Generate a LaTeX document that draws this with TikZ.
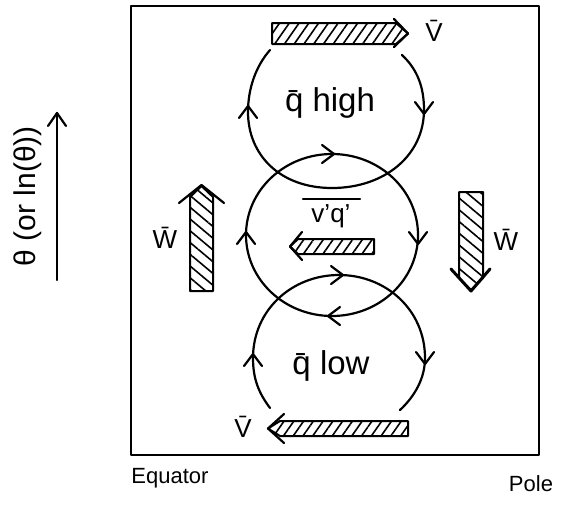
\documentclass[tikz,border=0pt]{standalone}
\usepackage{fontspec}
\setmainfont{Liberation Sans}
\usetikzlibrary{arrows.meta,patterns.meta}
\begin{document}
\begin{tikzpicture}[x=1pt,y=-1pt,
  ink/.style={line width=2.2pt, line cap=round, line join=round},
  hatchH/.style={ink, line width=2pt, pattern={Lines[angle=55,distance=8pt,line width=1.6pt]}},
  hatchV/.style={ink, line width=2pt, pattern={Lines[angle=-40,distance=9pt,line width=1.6pt]}},
  lbl/.style={inner sep=0pt},
  big/.style={lbl, font=\fontsize{33}{36}\selectfont},
  mid/.style={lbl, font=\fontsize{26}{28}\selectfont},
  sml/.style={lbl, font=\fontsize{22}{24}\selectfont},
  ]
\useasboundingbox (0,0) rectangle (567,506);

% frame
\draw[ink, line width=1.8pt] (131,6) rectangle (539,455);

% top loop (q high)
\draw[ink] (402,55) .. controls (418,70) and (424,88) .. (424,110)
  .. controls (424,155) and (385,188) .. (332,188)
  .. controls (280,188) and (248,155) .. (248,112)
  .. controls (248,88) and (256,66) .. (270,50);
\draw[ink] (239,118) -- (248,106) -- (257,118);
\draw[ink] (415,102) -- (424,114) -- (433,102);

% middle loop
\draw[ink] (332,235) ellipse [x radius=86, y radius=81];
\draw[ink] (322,145) -- (334,154) -- (322,163);
\draw[ink] (237,244) -- (246,232) -- (255,244);
\draw[ink] (409,232) -- (418,244) -- (427,232);
\draw[ink] (340,307) -- (328,316) -- (340,325);

% bottom loop (q low)
\draw[ink] (270,408) .. controls (258,392) and (253,378) .. (253,358)
  .. controls (253,310) and (292,275) .. (339,275)
  .. controls (386,275) and (425,310) .. (425,358)
  .. controls (425,378) and (415,396) .. (400,410);
\draw[ink] (331,266) -- (343,275) -- (331,284);
\draw[ink] (244,366) -- (253,354) -- (262,366);
\draw[ink] (416,352) -- (425,364) -- (434,352);

% hatched arrows
\draw[hatchH] (272,23) -- (396,23) -- (408,33.5) -- (396,44) -- (272,44) -- cycle;
\draw[ink] (394,19) -- (408,33.5) -- (394,47);

\draw[hatchH] (374,239) -- (298,239) -- (290,246.5) -- (298,254) -- (374,254) -- cycle;
\draw[ink] (302,232) -- (290,246.5) -- (302,260);

\draw[hatchH] (408,421) -- (280,421) -- (268,428.5) -- (280,436) -- (408,436) -- cycle;
\draw[ink] (284,414) -- (268,428.5) -- (284,443);

\draw[hatchV] (190,291) -- (190,197) -- (201.5,186) -- (213,197) -- (213,291) -- cycle;
\draw[ink] (179,203) -- (201.5,185) -- (224,203);

\draw[hatchV] (459,192) -- (483,192) -- (483,278) -- (471,290) -- (459,278) -- cycle;
\draw[ink, line width=3pt] (451,269) -- (471,291) -- (490,269);

% labels
\node[mid] (Vtop) at (434,31) {\={V}};
\node[mid] (Vbot) at (243,427) {\={V}};
\node[mid] (Wl) at (165,238) {\={W}};
\node[mid] (Wr) at (506,240) {\={W}};
\node[big] (qh) at (330,103) {\={q} high};
\node[mid] (vq) at (331,216) {v’q’};
\draw[ink] (303,199) -- (360,199);
\node[big] (ql) at (331,366) {\={q} low};
\node[sml] (eq) at (170,478) {Equator};
\node[sml] (po) at (531,484) {Pole};
\node[lbl, font=\fontsize{30}{32}\selectfont, rotate=90] (th) at (28,196) {θ (or ln(θ))};

% axis arrow
\coordinate (a0) at (57,280);
\coordinate (a1) at (57,113);
\draw[ink] (a0) -- (a1);
\draw[ink] (a1) ++(-9,13) -- (a1) -- ++(9,13);
\end{tikzpicture}
\end{document}
